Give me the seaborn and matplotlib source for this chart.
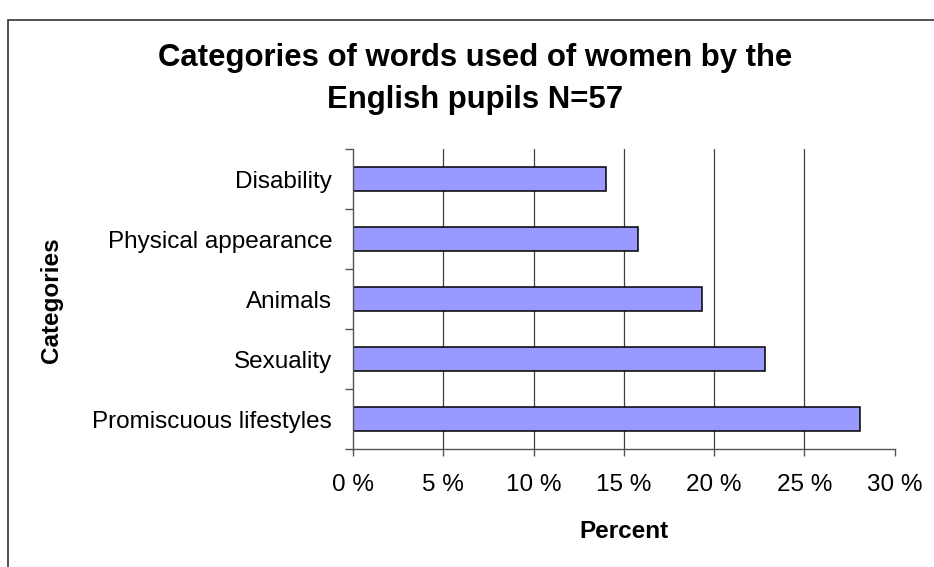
import matplotlib
matplotlib.use("Agg")
import matplotlib.pyplot as plt
import seaborn as sns
import pandas as pd
from matplotlib.patches import Rectangle

categories = ["Disability", "Physical appearance", "Animals", "Sexuality", "Promiscuous lifestyles"]
percent = [14.0, 15.8, 19.3, 22.8, 28.1]
xticks = [0, 5, 10, 15, 20, 25, 30]
xtick_labels = ["0 %", "5 %", "10 %", "15 %", "20 %", "25 %", "30 %"]

df = pd.DataFrame({"Category": categories, "Percent": percent})

sns.set_theme(style="white")
plt.rcParams["font.family"] = ["Liberation Sans", "DejaVu Sans"]
plt.rcParams["text.color"] = "black"
plt.rcParams["axes.labelcolor"] = "black"

fig = plt.figure(figsize=(9.34, 5.67), dpi=100)
ax = fig.add_axes([0.378, 0.2081, 0.580, 0.5291])

sns.barplot(data=df, x="Percent", y="Category", order=categories, orient="h",
            color="#9999FF", width=0.4, edgecolor="black", linewidth=1.1,
            saturation=1, ax=ax)

ax.set_xlim(0, 30)
ax.set_ylim(len(categories) - 0.5, -0.5)
ax.set_xticks(xticks)
ax.set_xticklabels(xtick_labels, fontsize=17.5, color="black")
for x in xticks[1:-1]:
    ax.axvline(x, color="#404040", linewidth=0.9, zorder=0)

ax.set_yticks(range(len(categories)))
ax.set_yticklabels(categories, fontsize=17.5, color="black")
ax.set_yticks([i - 0.5 for i in range(len(categories) + 1)], minor=True)
ax.tick_params(axis="y", which="major", left=True, length=0, pad=15)
ax.tick_params(axis="y", which="minor", left=True, length=6, width=1,
               color="#555555", direction="out")
ax.tick_params(axis="x", which="major", bottom=True, length=5, width=1,
               color="#555555", direction="out", pad=13)

for s in ["top", "right"]:
    ax.spines[s].set_visible(False)
for s in ["left", "bottom"]:
    ax.spines[s].set_color("#555555")
    ax.spines[s].set_linewidth(1)

ax.set_xlabel("")
ax.set_ylabel("")
fig.text(0.4975 + 0.17, 1 - 531 / 567, "Percent", ha="center", va="center",
         fontsize=17.5, fontweight="bold")
fig.text(52 / 934, 1 - 300 / 567, "Categories", rotation=90, ha="center", va="center",
         fontsize=17.5, fontweight="bold")

fig.text(475 / 934, 1 - 58 / 567, "Categories of words used of women by the",
         ha="center", va="center", fontsize=22.4, fontweight="bold")
fig.text(475 / 934, 1 - 100 / 567, "English pupils N=57",
         ha="center", va="center", fontsize=22.4, fontweight="bold")

fig.patches.append(Rectangle((8 / 934, -0.05), 1.2, 1.05 - 20 / 567,
                             transform=fig.transFigure, fill=False,
                             edgecolor="#333333", linewidth=1.2))

fig.savefig("out.png", dpi=100)
